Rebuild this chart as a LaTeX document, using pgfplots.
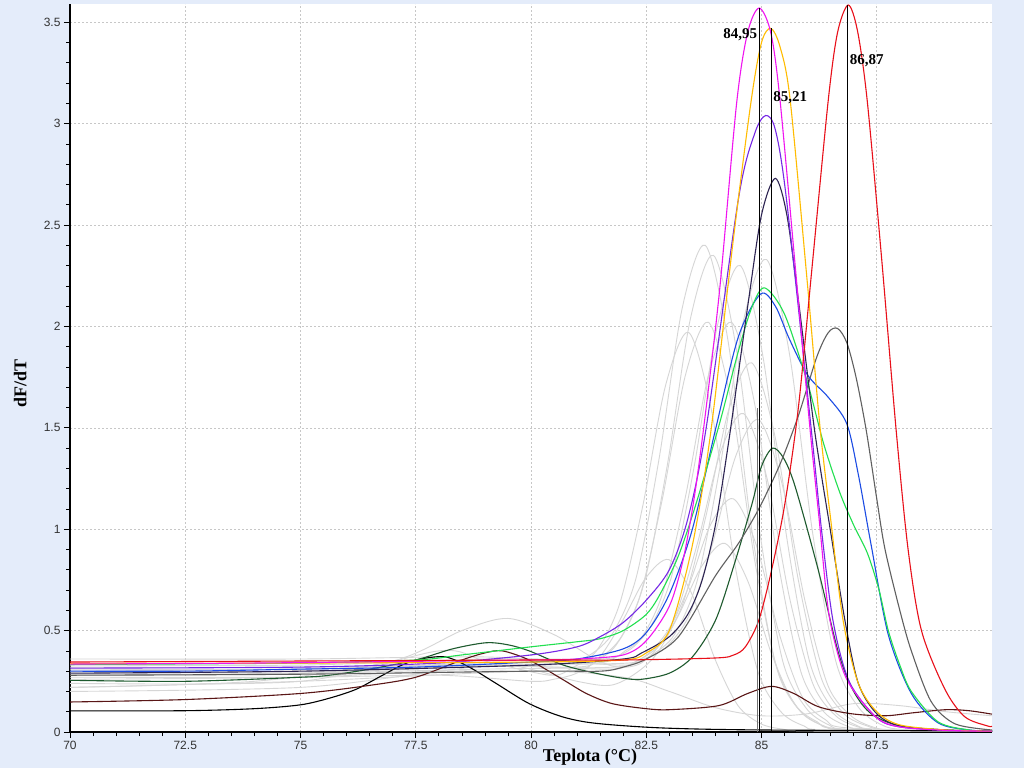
\documentclass[border=0pt]{standalone}
\usepackage{fontspec}
\setmainfont{Liberation Serif}
\newfontfamily\arial{Liberation Sans}
\usepackage{pgfplots}
\pgfplotsset{compat=1.18}

\definecolor{bgblue}{RGB}{228,236,250}
\definecolor{cmag}{RGB}{240,20,240}
\definecolor{corange}{RGB}{255,188,0}
\definecolor{cviolet}{RGB}{118,40,230}
\definecolor{cnavy}{RGB}{45,36,82}
\definecolor{cgreen}{RGB}{34,224,80}
\definecolor{cblue}{RGB}{28,76,228}
\definecolor{cgraydk}{RGB}{96,96,96}
\definecolor{cdkgreen}{RGB}{30,90,46}
\definecolor{cred}{RGB}{232,16,26}
\definecolor{cmaroon}{RGB}{90,22,22}
\definecolor{cpale}{RGB}{214,214,214}

\begin{document}
\begin{tikzpicture}
\fill[bgblue] (0,0) rectangle (1024pt,768pt);
\begin{axis}[
    at={(70pt,36pt)}, anchor=south west,
    scale only axis,
    width=922pt, height=728pt,
    axis background/.style={fill=white},
    xmin=70, xmax=90, ymin=0, ymax=3.59,
    axis x line*=bottom, axis y line*=left,
    axis line style={-, black, line width=1.4pt},
    xtick={70,72.5,75,77.5,80,82.5,85,87.5},
    ytick={0,0.5,1,1.5,2,2.5,3,3.5},
    minor x tick num=4, minor y tick num=4,
    tick align=outside,
    major tick length=6pt, minor tick length=4pt,
    tick style={black, line width=0.7pt},
    grid=major,
    major grid style={draw=black!22, dash pattern=on 2pt off 2pt, line width=0.6pt},
    /pgf/number format/assume math mode=true,
    ticklabel style={font=\arial\fontsize{12}{14}\selectfont, text=black!80},
    xlabel={Teplota (°C)},
    ylabel={dF/dT},
    xlabel style={font=\bfseries\fontsize{18}{20}\selectfont, at={(axis description cs:0.564,-0.034)}, anchor=center},
    ylabel style={font=\bfseries\fontsize{18}{20}\selectfont, at={(axis description cs:-0.054,0.479)}, anchor=center},
    every axis plot/.append style={smooth, line width=1.1pt},
]
% pale grey samples
\addplot[cpale, line width=0.9pt] coordinates {(70,0.30)(75,0.31)(78,0.32)(80.28,0.33)(80.78,0.34)(81.28,0.38)(81.78,0.49)(82.28,0.76)(82.78,1.35)(83.28,2.09)(83.78,2.40)(84.28,1.92)(84.78,1.01)(85.28,0.36)(85.78,0.12)(86.28,0.036)(86.78,0.012)(88,0.004)(90,0)};
\addplot[cpale, line width=0.9pt] coordinates {(70,0.28)(75,0.29)(78,0.33)(80.96,0.32)(81.46,0.36)(81.96,0.47)(82.46,0.74)(82.96,1.32)(83.46,2.04)(83.96,2.35)(84.46,1.88)(84.96,0.99)(85.46,0.35)(85.96,0.12)(86.46,0.035)(86.96,0.012)(90,0)};
\addplot[cpale, line width=0.9pt] coordinates {(70,0.33)(75,0.33)(79,0.36)(81.54,0.36)(82.04,0.40)(82.54,0.50)(83.04,0.76)(83.54,1.31)(84.04,2.00)(84.54,2.30)(85.04,1.84)(85.54,0.97)(86.04,0.35)(86.54,0.115)(87.04,0.035)(87.54,0.012)(90,0)};
\addplot[cpale, line width=0.9pt] coordinates {(70,0.29)(76,0.30)(79.5,0.33)(82.11,0.34)(82.61,0.38)(83.11,0.48)(83.61,0.75)(84.11,1.32)(84.61,2.03)(85.11,2.33)(85.61,1.86)(86.11,0.98)(86.61,0.35)(87.11,0.12)(87.61,0.035)(88.11,0.012)(90,0)};
\addplot[cpale, line width=0.9pt] coordinates {(70,0.26)(75,0.27)(78,0.30)(80.85,0.30)(81.35,0.34)(81.85,0.43)(82.35,0.66)(82.85,1.15)(83.35,1.76)(83.85,2.02)(84.35,1.62)(84.85,0.85)(85.35,0.30)(85.85,0.10)(86.35,0.03)(86.85,0.01)(90,0)};
\addplot[cpale, line width=0.9pt] coordinates {(70,0.24)(75,0.25)(78,0.40)(79,0.35)(80.42,0.28)(80.92,0.32)(81.42,0.40)(81.92,0.63)(82.42,1.11)(82.92,1.71)(83.42,1.97)(83.92,1.58)(84.42,0.83)(84.92,0.30)(85.42,0.10)(85.92,0.03)(86.42,0.01)(90,0)};
\addplot[cpale, line width=0.9pt] coordinates {(70,0.31)(75,0.31)(79,0.34)(81.35,0.34)(81.85,0.37)(82.35,0.45)(82.85,0.68)(83.35,1.16)(83.85,1.76)(84.35,2.02)(84.85,1.62)(85.35,0.85)(85.85,0.30)(86.35,0.10)(86.85,0.03)(87.35,0.01)(90,0)};
\addplot[cpale, line width=0.9pt] coordinates {(70,0.28)(75,0.29)(79,0.31)(81.79,0.32)(82.29,0.35)(82.79,0.43)(83.29,0.63)(83.79,1.06)(84.29,1.59)(84.79,1.82)(85.29,1.46)(85.79,0.76)(86.29,0.27)(86.79,0.09)(87.29,0.03)(87.79,0.01)(90,0)};
\addplot[cpale, line width=0.9pt] coordinates {(70,0.22)(74,0.25)(77,0.35)(78.5,0.50)(79.5,0.56)(80.5,0.48)(81.39,0.36)(81.89,0.32)(82.39,0.34)(82.89,0.46)(83.39,0.70)(83.89,1.02)(84.39,1.15)(84.89,0.92)(85.39,0.48)(85.89,0.17)(86.39,0.06)(86.89,0.02)(90,0)};
\addplot[cpale, line width=0.9pt] coordinates {(70,0.20)(75,0.22)(78,0.30)(79.5,0.33)(81,0.25)(81.71,0.23)(82.21,0.28)(82.71,0.38)(83.21,0.58)(83.71,0.82)(84.21,0.93)(84.71,0.74)(85.21,0.39)(85.71,0.14)(86.21,0.05)(86.71,0.015)(90,0)};
\addplot[cpale, line width=0.9pt] coordinates {(70,0.27)(75,0.27)(78,0.28)(79.99,0.25)(80.49,0.26)(80.99,0.29)(81.49,0.37)(81.99,0.55)(82.49,0.76)(82.99,0.85)(83.49,0.68)(83.99,0.36)(84.49,0.13)(84.99,0.04)(85.49,0.013)(86,0.005)(90,0)};
\addplot[cpale, line width=0.9pt] coordinates {(70,0.32)(75,0.32)(79,0.33)(81.61,0.31)(82.11,0.33)(82.61,0.40)(83.11,0.56)(83.61,0.93)(84.11,1.38)(84.61,1.57)(85.11,1.26)(85.61,0.66)(86.11,0.24)(86.61,0.08)(87.11,0.024)(87.61,0.008)(90,0)};
\addplot[cpale, line width=0.9pt] coordinates {(70,0.36)(75,0.36)(79,0.37)(81.94,0.33)(82.44,0.36)(82.94,0.42)(83.44,0.58)(83.94,0.93)(84.44,1.36)(84.94,1.54)(85.44,1.23)(85.94,0.65)(86.44,0.23)(86.94,0.08)(87.44,0.023)(87.94,0.008)(90,0)};
\addplot[cpale, line width=0.9pt] coordinates {(70,0.22)(75,0.25)(80,0.30)(82,0.27)(83,0.20)(84,0.12)(85,0.08)(86,0.09)(87,0.14)(88,0.13)(89,0.10)(90,0.08)};

% coloured samples
\addplot[black] coordinates {(70,0.104)(72.5,0.105)(74,0.115)(75,0.134)(75.63,0.167)(76.2,0.21)(76.7,0.27)(77.2,0.33)(77.6,0.36)(78.15,0.37)(78.66,0.32)(79.24,0.24)(79.96,0.14)(80.68,0.075)(81.4,0.043)(82.84,0.02)(85,0.01)(90,0.005)};
\addplot[cmaroon] coordinates {(70,0.148)(72.5,0.16)(75,0.19)(76.5,0.23)(77.5,0.27)(78.5,0.355)(79,0.39)(79.38,0.40)(79.96,0.355)(80.68,0.26)(81.2,0.19)(81.76,0.14)(82.5,0.115)(83,0.11)(84.07,0.13)(84.7,0.19)(85.22,0.225)(85.7,0.19)(86.23,0.125)(86.95,0.09)(87.68,0.08)(88.3,0.095)(89,0.11)(89.5,0.105)(90,0.088)};
\addplot[cdkgreen] coordinates {(70,0.255)(72.5,0.25)(75,0.27)(75.63,0.28)(76.5,0.31)(77.5,0.355)(78.3,0.41)(79.02,0.44)(79.5,0.43)(79.96,0.40)(80.7,0.33)(81.4,0.29)(82.0,0.265)(82.4,0.26)(83.0,0.29)(83.5,0.37)(84.0,0.55)(84.4,0.82)(84.8,1.13)(85.0,1.31)(85.24,1.40)(85.48,1.35)(85.73,1.21)(86.23,0.80)(86.67,0.39)(87.0,0.20)(87.38,0.09)(88,0.03)(89,0.01)(90,0.005)};
\addplot[cgraydk] coordinates {(70,0.28)(75,0.285)(80,0.30)(81.5,0.30)(82,0.32)(82.5,0.36)(83.2,0.47)(84,0.77)(84.5,0.93)(84.94,1.10)(85.4,1.32)(85.8,1.56)(86.2,1.85)(86.45,1.97)(86.65,1.99)(86.85,1.92)(87.05,1.75)(87.27,1.49)(87.5,1.15)(87.68,0.90)(88.0,0.60)(88.25,0.40)(88.68,0.15)(89.2,0.04)(90,0.01)};
\addplot[cblue] coordinates {(70,0.30)(72.5,0.30)(75,0.31)(77.5,0.32)(80,0.345)(81,0.36)(82,0.41)(82.5,0.49)(83,0.68)(83.5,1.00)(84,1.49)(84.5,1.95)(84.98,2.16)(85.3,2.10)(85.6,1.94)(86,1.76)(86.45,1.65)(86.85,1.52)(87.1,1.27)(87.38,0.92)(87.75,0.48)(88.25,0.19)(88.83,0.045)(89.5,0.01)(90,0.005)};
\addplot[cgreen] coordinates {(70,0.333)(75,0.34)(77.5,0.355)(78.5,0.38)(80,0.42)(81,0.445)(81.5,0.46)(82,0.50)(82.5,0.58)(82.8,0.68)(83.2,0.87)(83.6,1.14)(84.1,1.53)(84.5,1.88)(84.8,2.10)(85.07,2.19)(85.5,2.06)(86,1.72)(86.35,1.42)(86.7,1.18)(87,1.02)(87.3,0.88)(87.55,0.70)(87.75,0.50)(88,0.33)(88.25,0.20)(88.83,0.05)(89.5,0.01)(90,0.005)};
\addplot[cnavy] coordinates {(70,0.29)(75,0.30)(80,0.33)(82,0.36)(82.4,0.39)(83.0,0.47)(83.4,0.58)(83.7,0.74)(84.0,1.02)(84.3,1.45)(84.72,2.13)(85.0,2.55)(85.3,2.73)(85.55,2.55)(85.8,2.13)(86.15,1.49)(86.49,1.00)(86.81,0.55)(87.1,0.24)(87.5,0.09)(88,0.03)(89,0.01)(90,0.004)};
\addplot[cviolet] coordinates {(70,0.315)(75,0.32)(78,0.34)(80,0.38)(81,0.42)(81.5,0.47)(82,0.54)(82.5,0.65)(83.0,0.80)(83.4,1.05)(83.8,1.50)(84.5,2.63)(84.85,2.95)(85.09,3.04)(85.3,2.97)(85.54,2.63)(86.08,1.49)(86.3,1.00)(86.55,0.55)(86.9,0.25)(87.5,0.07)(88,0.025)(89,0.008)(90,0.004)};
\addplot[corange] coordinates {(70,0.337)(75,0.34)(80,0.345)(82,0.355)(82.5,0.39)(83,0.50)(83.5,0.92)(83.9,1.48)(84.4,2.45)(84.78,3.12)(85.0,3.40)(85.2,3.47)(85.4,3.38)(85.62,3.12)(86.0,2.20)(86.27,1.50)(86.5,1.05)(86.77,0.55)(87.1,0.24)(87.5,0.10)(88,0.035)(89,0.01)(90,0.004)};
\addplot[cmag] coordinates {(70,0.335)(74,0.34)(78,0.35)(80,0.355)(81,0.36)(82,0.38)(82.5,0.45)(83,0.62)(83.3,0.85)(83.55,1.17)(83.8,1.60)(84.1,2.20)(84.46,3.10)(84.7,3.45)(84.95,3.57)(85.2,3.45)(85.4,3.12)(85.75,2.25)(86.05,1.50)(86.25,1.05)(86.45,0.60)(86.7,0.35)(86.95,0.22)(87.5,0.07)(88,0.025)(89,0.008)(90,0.004)};
\addplot[cred] coordinates {(70,0.345)(75,0.35)(80,0.355)(82,0.355)(84,0.365)(84.4,0.38)(84.65,0.42)(84.94,0.55)(85.22,0.80)(85.51,1.13)(85.8,1.60)(86.1,2.30)(86.45,3.12)(86.65,3.45)(86.88,3.585)(87.08,3.46)(87.29,3.12)(87.6,2.35)(87.92,1.49)(88.18,0.90)(88.47,0.50)(88.98,0.21)(89.41,0.075)(89.9,0.03)(90,0.028)};

% melting-temperature markers
\addplot[sharp plot, black!55, line width=1.4pt] coordinates {(84.91,0) (84.91,1.6)};
\addplot[sharp plot, black, line width=0.9pt] coordinates {(84.95,0) (84.95,3.57)};
\addplot[sharp plot, black, line width=0.9pt] coordinates {(85.21,0) (85.21,3.47)};
\addplot[sharp plot, black, line width=0.9pt] coordinates {(86.87,0) (86.87,3.585)};
\node[anchor=east, font=\bfseries\fontsize{15}{17}\selectfont, inner sep=1pt] at (axis cs:84.93,3.44) {84,95};
\node[anchor=west, font=\bfseries\fontsize{15}{17}\selectfont, inner sep=1pt] at (axis cs:85.23,3.13) {85,21};
\node[anchor=west, font=\bfseries\fontsize{15}{17}\selectfont, inner sep=1pt] at (axis cs:86.89,3.31) {86,87};
\end{axis}
\end{tikzpicture}
\end{document}
